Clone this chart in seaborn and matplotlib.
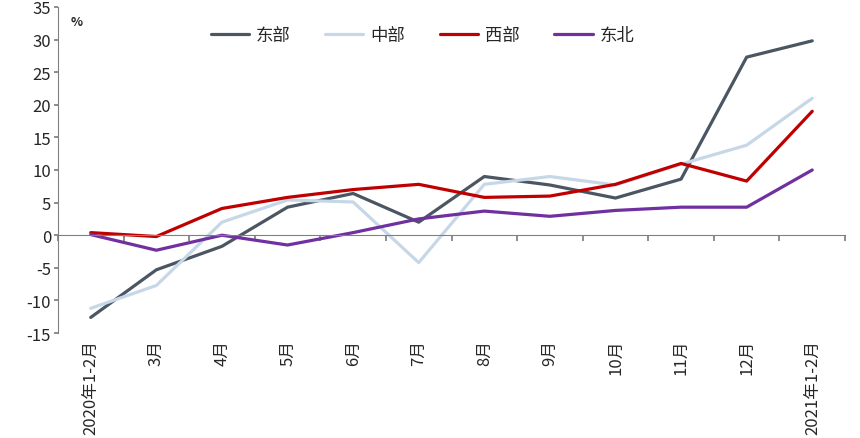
import matplotlib
matplotlib.use("Agg")
import matplotlib.pyplot as plt
import seaborn as sns
import pandas as pd
import numpy as np

categories = ["2020年1-2月", "3月", "4月", "5月", "6月", "7月", "8月", "9月", "10月", "11月", "12月", "2021年1-2月"]
east = [-12.6, -5.3, -1.7, 4.3, 6.4, 2.0, 9.0, 7.7, 5.7, 8.6, 27.3, 29.8]
central = [-11.2, -7.7, 2.0, 5.4, 5.1, -4.2, 7.8, 9.0, 7.7, 10.9, 13.8, 21.0]
west = [0.4, -0.2, 4.1, 5.8, 7.0, 7.8, 5.8, 6.0, 7.8, 11.0, 8.3, 19.0]
northeast = [0.1, -2.3, 0.0, -1.5, 0.4, 2.5, 3.7, 2.9, 3.8, 4.3, 4.3, 10.0]
series_names = ["东部", "中部", "西部", "东北"]
colors = ["#4b5663", "#c6d8e8", "#c00000", "#7030a0"]

sns.set_theme(style="white")
plt.rcParams['font.family'] = ['Noto Sans CJK SC', 'DejaVu Sans']
plt.rcParams['axes.unicode_minus'] = False

rows = []
for name, vals in zip(series_names, [east, central, west, northeast]):
    for i, v in enumerate(vals):
        rows.append({"idx": i, "value": v, "region": name})
df = pd.DataFrame(rows)

fig = plt.figure(figsize=(8.6, 4.39), dpi=100)
ax = fig.add_axes([0.0674, 0.239, 0.9152, 0.743])

sns.lineplot(data=df, x="idx", y="value", hue="region", hue_order=series_names,
             palette=colors, linewidth=2.3, ax=ax, sort=False, estimator=None)

n = len(categories)
ax.set_xlim(-0.5, n - 0.5)
ax.set_ylim(-15, 35)
ax.set_yticks(np.arange(-15, 36, 5))
ax.tick_params(axis='y', labelsize=12, length=3, direction='out', color='#808080', left=True, pad=2)
for s in ["top", "right"]:
    ax.spines[s].set_visible(False)
ax.spines["left"].set_color("#808080")
ax.spines["left"].set_linewidth(0.8)
ax.spines["bottom"].set_position(("data", 0))
ax.spines["bottom"].set_color("#808080")
ax.spines["bottom"].set_linewidth(0.8)
ax.set_xticks(np.arange(-0.5, n, 1.0))
ax.set_xticklabels([])
ax.tick_params(axis='x', length=4, direction='out', color='#808080', bottom=True)
ax.set_xlabel("")
ax.set_ylabel("")

sec = ax.secondary_xaxis(0)
sec.set_xticks(np.arange(n))
sec.set_xticklabels(categories, rotation=90, fontsize=12, va='top')
sec.tick_params(length=0, pad=4)
sec.spines["bottom"].set_visible(False)

ax.text(0.016, 0.975, "%", transform=ax.transAxes, fontsize=9, fontweight='bold', va='top', ha='left')

leg = ax.legend(loc='upper center', bbox_to_anchor=(0.463, 0.99), ncol=4, frameon=False,
                fontsize=12.5, handlelength=2.2, columnspacing=2.0, handletextpad=0.4)
leg.set_title(None)

fig.savefig("out.png", dpi=100)
